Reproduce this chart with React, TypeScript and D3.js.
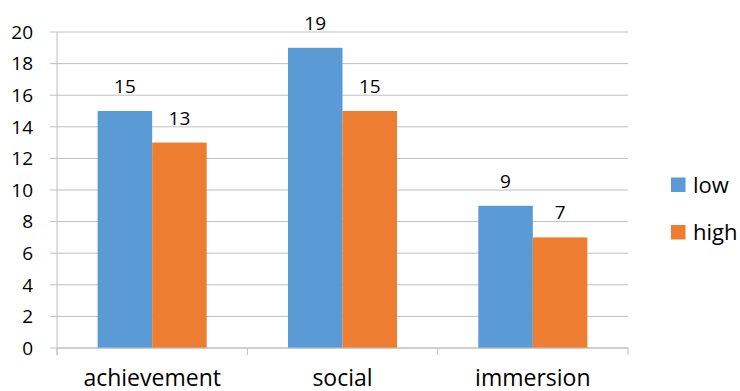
import React from "react";
import * as d3 from "d3";

const categories = ["achievement", "social", "immersion"];
const seriesNames = ["low", "high"];
const lowValues = [15, 19, 9];
const highValues = [13, 15, 7];
const yTicks = [0, 2, 4, 6, 8, 10, 12, 14, 16, 18, 20];
const colors = ["#5B9BD5", "#ED7D31"];

const W = 740;
const H = 391;
const margin = { left: 57, right: 112, top: 32, bottom: 43 };
const FONT = "'Open Sans', Lato, sans-serif";

export default function App() {
  const x0 = d3
    .scaleBand<string>()
    .domain(categories)
    .range([margin.left, W - margin.right])
    .paddingInner(0)
    .paddingOuter(0);
  const y = d3.scaleLinear().domain([0, 20]).range([H - margin.bottom, margin.top]);
  const inner = x0.bandwidth() * 0.573;
  const x1 = d3
    .scaleBand<string>()
    .domain(seriesNames)
    .range([(x0.bandwidth() - inner) / 2, (x0.bandwidth() + inner) / 2]);
  const series = [lowValues, highValues];
  const gridColor = "#bfbfbf";
  const x0Start = margin.left;
  const xEnd = W - margin.right;

  return (
    <svg
      width={W}
      height={H}
      style={{ position: "absolute", left: 0, top: 0, background: "#fff" }}
      fontFamily={FONT}
    >
      {/* horizontal gridlines with left tick marks */}
      {yTicks.map((t) => (
        <g key={t}>
          <line x1={x0Start - 7} x2={xEnd} y1={y(t)} y2={y(t)} stroke={gridColor} strokeWidth={1} />
          <text x={33} y={y(t)} dy="0.36em" textAnchor="end" fontSize={19} fill="#000">
            {t}
          </text>
        </g>
      ))}
      {/* bars */}
      {categories.map((c, ci) => (
        <g key={c} transform={`translate(${x0(c)},0)`}>
          {series.map((vals, si) => (
            <g key={si}>
              <rect
                x={x1(seriesNames[si])}
                y={y(vals[ci])}
                width={x1.bandwidth()}
                height={y(0) - y(vals[ci])}
                fill={colors[si]}
              />
              <text
                x={(x1(seriesNames[si]) as number) + x1.bandwidth() / 2}
                y={y(vals[ci]) - 18}
                textAnchor="middle"
                fontSize={19}
                fill="#000"
              >
                {vals[ci]}
              </text>
            </g>
          ))}
        </g>
      ))}
      {/* axes */}
      <line x1={x0Start} x2={x0Start} y1={y(20)} y2={y(0) + 7} stroke={gridColor} />
      <line x1={x0Start} x2={xEnd} y1={y(0)} y2={y(0)} stroke={gridColor} />
      {[...categories.map((c) => x0(c) as number), xEnd].map((xv, i) => (
        <line key={i} x1={xv} x2={xv} y1={y(0)} y2={y(0) + 7} stroke={gridColor} />
      ))}
      {categories.map((c) => (
        <text
          key={c}
          x={(x0(c) as number) + x0.bandwidth() / 2}
          y={386}
          textAnchor="middle"
          fontSize={23}
          fill="#000"
        >
          {c}
        </text>
      ))}
      {/* legend */}
      {seriesNames.map((s, i) => (
        <g key={s} transform={`translate(671,${177.5 + i * 47.5})`}>
          <rect width={14.5} height={14.5} fill={colors[i]} />
          <text x={22} y={15} fontSize={22} fill="#000">
            {s}
          </text>
        </g>
      ))}
    </svg>
  );
}
